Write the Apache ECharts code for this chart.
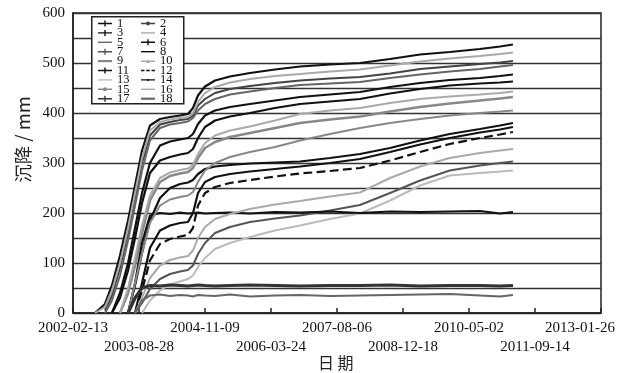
<!DOCTYPE html>
<html><head><meta charset="utf-8">
<script src="https://cdn.jsdelivr.net/npm/echarts@6/dist/echarts.min.js"></script>
<style>html,body{margin:0;padding:0;background:#fff}#c{width:633px;height:373px}</style>
</head><body><div id="c"></div>
<script>
const startDate = '2002-02-13';
const dates = ['2002-05-15','2002-07-30','2002-10-13','2002-12-05','2003-02-04','2003-04-06','2003-05-29','2003-07-21','2003-09-19','2003-12-04','2004-02-18','2004-05-04','2004-07-03','2004-08-10','2004-09-17','2004-11-09','2005-01-24','2005-05-17','2005-10-16','2006-04-23','2006-10-30','2007-06-14','2008-01-27','2008-09-11','2009-04-26','2009-12-07','2010-07-24','2010-12-23','2011-03-31'];
const tickLabels = ['2002-02-13','2003-08-28','2004-11-09','2006-03-24','2007-08-06','2008-12-18','2010-05-02','2011-09-14','2013-01-26'];
const names = ['1','2','3','4','5','6','7','8','9','10','11','12','13','14','15','16','17','18'];
const s1  = [null,0,18,55,115,185,255,325,375,388,392,395,398,410,435,453,465,473,480,487,493,497,500,508,517,522,528,533,537];
const s4  = [null,0,12,45,100,170,240,310,365,382,387,390,392,400,422,440,452,461,468,474,478,483,487,495,503,509,514,518,521];
const s2  = [null,null,5,35,90,160,230,300,355,377,382,386,388,395,415,428,440,448,454,460,465,469,472,479,488,493,498,501,504];
const s5  = [null,null,0,25,75,145,215,285,345,370,377,380,383,390,405,418,428,437,443,450,456,459,462,470,477,483,488,493,496];
const s3  = [null,null,null,0,40,100,170,240,300,335,343,347,350,358,378,395,405,412,418,425,432,437,442,452,460,466,470,474,477];
const s6  = [null,null,null,0,30,85,150,220,280,305,312,317,320,328,350,372,385,393,400,410,418,423,428,439,448,455,459,461,463];
const s10 = [null,null,null,null,0,50,110,175,235,270,281,286,289,296,318,340,355,365,373,385,398,405,410,420,428,433,437,440,443];
const s9  = [null,null,null,null,0,40,95,160,225,262,274,279,282,290,310,330,342,352,360,370,380,387,393,403,412,419,425,429,432];
const s15 = [null,null,null,null,null,0,60,120,180,215,227,232,235,242,262,285,300,312,322,332,345,358,370,380,388,395,400,403,405];
const s8  = [null,null,null,null,null,0,55,120,185,230,250,258,261,266,278,288,293,296,299,301,303,310,318,330,345,358,368,375,380];
const s11 = [null,null,null,null,null,null,0,60,130,165,175,180,182,200,240,262,272,278,283,288,293,300,308,322,337,350,361,367,372];
const s12 = [null,null,null,null,null,null,0,45,105,138,148,153,156,170,215,240,252,260,266,273,279,284,290,305,322,338,350,357,362];
const s16 = [null,null,null,null,null,null,0,30,70,95,106,111,114,125,150,172,188,198,208,217,224,233,241,270,293,310,320,325,328];
const s7  = [null,null,null,null,null,null,0,20,48,68,78,83,86,95,118,140,160,172,182,189,195,205,216,240,265,285,295,300,303];
const s13 = [null,null,null,null,null,null,null,0,25,45,57,63,68,75,92,110,128,140,152,165,175,188,199,225,255,275,280,283,285];
const s14 = [null,null,null,null,null,0,60,140,195,200,198,201,199,200,201,199,200,201,199,202,201,203,200,203,202,203,204,199,202];
const s17 = [null,null,null,null,null,0,30,50,55,54,56,55,54,55,56,55,54,55,56,55,54,55,55,56,54,55,55,54,55];
const s18 = [null,null,null,null,null,null,0,25,35,37,34,36,35,33,36,35,34,37,33,35,36,34,35,36,37,38,35,33,36];

const values = [s1,s2,s3,s4,s5,s6,s7,s8,s9,s10,s11,s12,s13,s14,s15,s16,s17,s18];
const colors = ['#111','#444','#111','#aaa','#666','#111','#555','#111','#888','#aaa','#111','#111','#bbb','#111','#888','#aaa','#333','#666'];
const markerKinds = ['plus','circle','plus','line','line','plus','plus','line','thick','tri','plus','dash','line','rect','circle','line','plus','thick'];
const widths = [2.2,2,2.2,2,2,2.2,2,2.2,2.6,2,2.2,2.2,2,2.2,2,2,3.2,2.2];
const DAY = 86400000;
const t0 = Date.parse(startDate);
const xs = dates.map(d => (Date.parse(d) - t0) / DAY);
const FONT = '"Liberation Serif", "Times New Roman", serif';

const LINE = 'M0,40H140V54H0Z';
const icons = {
  line: 'path://' + LINE,
  thick: 'path://M0,36H140V58H0Z',
  plus: 'path://' + LINE + 'M63,17H77V77H63Z',
  circle: 'path://' + LINE + 'M50,47A20,20 0 1,1 90,47A20,20 0 1,1 50,47Z',
  tri: 'path://' + LINE + 'M70,25L90,65H50Z',
  rect: 'path://' + LINE + 'M62,37H78V57H62Z',
  dash: 'path://M0,40H35V54H0Z M52,40H88V54H52Z M105,40H140V54H105Z'
};

const series = values.map((arr, i) => ({
  name: names[i], type: 'line', xAxisIndex: 0, data: arr.map((v, k) => [xs[k], v]),
  symbol: 'none', showSymbol: false, connectNulls: false,
  lineStyle: { color: colors[i], width: widths[i], type: i === 11 ? 'dashed' : 'solid' },
  itemStyle: { color: colors[i] }, animation: false, z: 3
}));

const legendBase = {
  orient: 'vertical', top: 17, itemWidth: 14, itemHeight: 9.4, itemGap: -3.6, padding: 0,
  textStyle: { fontFamily: FONT, fontSize: 12.5, color: '#111' },
  itemStyle: { borderWidth: 0 }, symbolKeepAspect: true,
  selectedMode: false, z: 10
};
const legendData = (par) => names.map((n, i) => ({ name: n, icon: icons[markerKinds[i]] })).filter((d, i) => i % 2 === par);

const labelRow = (par, margin) => ({
  margin: margin, fontFamily: FONT, fontSize: 15, color: '#111',
  showMinLabel: true, showMaxLabel: true, hideOverlap: false,
  formatter: function (v) {
    const i = Math.round(v / 500);
    if (i % 2 !== par) return '';
    const t = tickLabels[i];
    return i === 8 ? '{r|' + t + '}' : t;
  },
  rich: { r: { fontFamily: FONT, fontSize: 15, color: '#111', padding: [0, 42, 0, 0] } }
});

const chart = echarts.init(document.getElementById('c'), null, { renderer: 'canvas' });
chart.setOption({
  backgroundColor: '#fff',
  animation: false,
  grid: { left: 73, right: 32, top: 13, bottom: 60, show: true, borderColor: '#222', borderWidth: 1.5 },
  legend: [
    Object.assign({}, legendBase, { left: 98, data: legendData(0) }),
    Object.assign({}, legendBase, { left: 141, data: legendData(1) })
  ],
  graphic: [
    { type: 'rect', left: 91, top: 16, shape: { width: 92, height: 87 }, style: { fill: '#fff', stroke: '#222', lineWidth: 1.5 }, z: 5 },
    { type: 'text', left: 14, top: 96, rotation: Math.PI / 2, style: { text: '沉降 / mm', font: '18.5px "Noto Sans CJK SC", ' + FONT, fill: '#222' }, z: 10 },
    { type: 'text', left: 318, top: 355, style: { text: '日 期', font: '16px "Noto Sans CJK SC"', fill: '#222' }, z: 10 }
  ],
  xAxis: [{
    type: 'value', min: 0, max: 4000, interval: 500, position: 'bottom',
    axisLine: { show: true, lineStyle: { color: '#222', width: 1.5 } },
    axisTick: { show: true, inside: true, length: 5, lineStyle: { color: '#222', width: 1.5 } },
    splitLine: { show: false },
    axisLabel: labelRow(0, 8)
  }, {
    type: 'value', min: 0, max: 4000, interval: 500, position: 'bottom', offset: 0,
    axisLine: { show: false }, axisTick: { show: false }, splitLine: { show: false },
    axisLabel: labelRow(1, 27)
  }],
  yAxis: {
    type: 'value', min: 0, max: 600, interval: 50,
    axisLine: { show: true, lineStyle: { color: '#222', width: 1.5 } },
    axisTick: { show: false },
    splitLine: { show: true, lineStyle: { color: '#333', width: 1.3 } },
    axisLabel: {
      margin: 8, fontFamily: FONT, fontSize: 15, color: '#111',
      formatter: v => (v % 100 === 0 ? String(v) : '')
    }
  },
  series: series
});
</script></body></html>
